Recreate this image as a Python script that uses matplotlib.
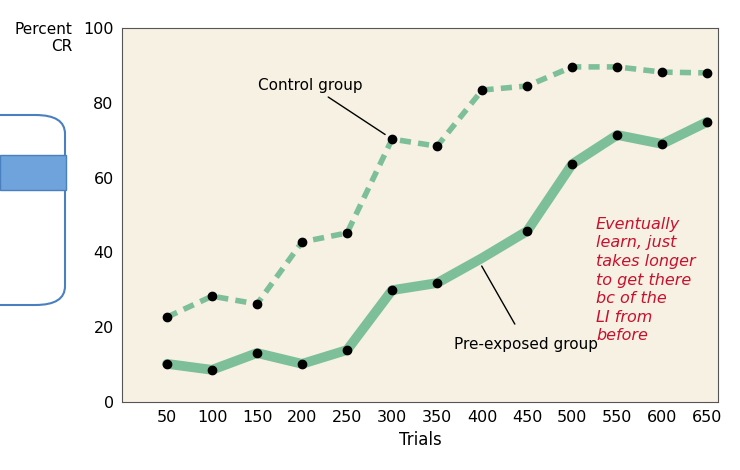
import matplotlib.pyplot as plt
from matplotlib.patches import FancyBboxPatch, Rectangle

trials = [50, 100, 150, 200, 250, 300, 350, 400, 450, 500, 550, 600, 650]
control = [22.7, 28.3, 26.2, 42.8, 45.2, 70.3, 68.4, 83.4, 84.5, 89.6, 89.6, 88.2, 88.0]
preexposed = [10.2, 8.6, 13.1, 10.2, 13.9, 29.9, 31.8, 38.5, 45.7, 63.6, 71.4, 69.0, 74.9]
pre_marker = [True] * 13
pre_marker[7] = False

green = '#7dbf98'
fig = plt.figure(figsize=(7.4, 4.7), dpi=100)
ax = fig.add_axes([122/740, 1 - 402/470, 596/740, 374/470])
ax.set_facecolor('#f6f1e3')

ax.plot(trials, control, '--', color=green, linewidth=4, dashes=(2, 1.3), zorder=2)
ax.plot(trials, control, 'o', color='black', markersize=6, zorder=3)
ax.plot(trials, preexposed, '-', color=green, linewidth=7, solid_capstyle='round', zorder=2)
ax.plot([t for t, m in zip(trials, pre_marker) if m],
        [v for v, m in zip(preexposed, pre_marker) if m], 'o', color='black', markersize=6, zorder=3)

ax.set_xlim(0, 662)
ax.set_ylim(0, 100)
ax.set_xticks(trials)
ax.set_yticks([0, 20, 40, 60, 80, 100])
ax.tick_params(labelsize=11.5, length=0, pad=6)
for s in ax.spines.values():
    s.set_color('#555555')
ax.set_xlabel('Trials', fontsize=12)
fig.text(72/740, 1 - 38/470, 'Percent\nCR', ha='right', va='center', fontsize=11)

ax.annotate('Control group', xy=(300, 70.3), xytext=(151, 84.7), fontsize=11, va='center',
            arrowprops=dict(arrowstyle='-', color='black', lw=1, shrinkB=6))
ax.annotate('Pre-exposed group', xy=(398, 37), xytext=(369, 15.5), fontsize=11, va='center',
            arrowprops=dict(arrowstyle='-', color='black', lw=1, shrinkA=8))

fig.text(596/740, 1 - 280/470, 'Eventually\nlearn, just\ntakes longer\nto get there\nbc of the\nLI from\nbefore',
         color='#c8102e', fontsize=11.5, fontstyle='italic', va='center', linespacing=1.3)

# partial UI box on the left
fig.patches.append(FancyBboxPatch((-30/740, 1 - 305/470), 95/740, 190/470,
                                  boxstyle='round,pad=0,rounding_size=0.04',
                                  transform=fig.transFigure, fill=False,
                                  edgecolor='#4a7fc0', linewidth=1.5))
fig.patches.append(Rectangle((0, 1 - 190/470), 66/740, 35/470, transform=fig.transFigure,
                             facecolor='#6fa3dc', edgecolor='#4a7fc0', linewidth=1))

fig.savefig('out.png', dpi=100, facecolor='white')
